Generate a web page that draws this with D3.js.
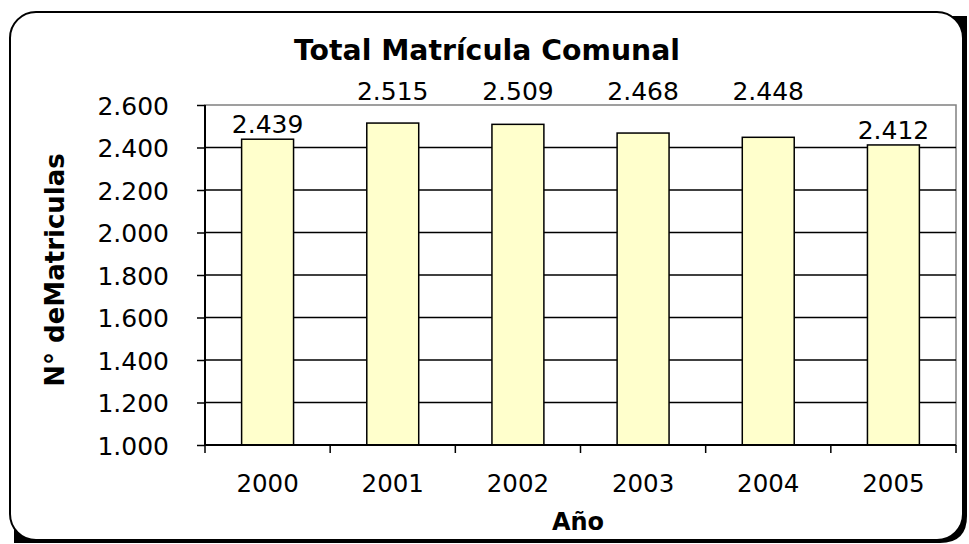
<!DOCTYPE html>
<html><head><meta charset="utf-8">
<script src="https://cdn.jsdelivr.net/npm/d3@7"></script>
<style>body{margin:0;background:#fff}svg{display:block}text{font-family:"DejaVu Sans",Verdana,sans-serif}</style>
</head><body><svg id="c" width="969" height="544"></svg>
<script>
const years = ["2000","2001","2002","2003","2004","2005"];
const matriculas = [2439, 2515, 2509, 2468, 2448, 2412];
const yTicks = [1000,1200,1400,1600,1800,2000,2200,2400,2600];
const title = "Total Matrícula Comunal";
const yTitle = "N° deMatriculas";
const xTitle = "Año";

const svg = d3.select("#c");
const fmt = v => d3.format(",")(v).replace(/,/g, ".");
const m = {l:205, r:956, t:105, b:445};

// frame with shadow
svg.append("path").attr("d","M 14 40 Q 14 16 38 16 L 967 16 L 967 516 Q 967 543 940 543 L 14 543 Z").attr("fill","#000");
svg.append("rect").attr("x",10).attr("y",12).attr("width",953).attr("height",528).attr("rx",26).attr("ry",26)
  .attr("fill","#fff").attr("stroke","#000").attr("stroke-width",2);

const x = d3.scaleBand().domain(years).range([m.l, m.r]).paddingInner(0.585).paddingOuter(0.2925);
const y = d3.scaleLinear().domain([1000,2600]).range([m.b, m.t]);

// plot border (gray top/right)
svg.append("rect").attr("x",m.l).attr("y",m.t).attr("width",m.r-m.l).attr("height",m.b-m.t)
  .attr("fill","none").attr("stroke","#808080").attr("stroke-width",1.5);

// gridlines
svg.append("g").selectAll("line").data(yTicks.filter(d=>d>1000 && d<2600)).join("line")
  .attr("x1",m.l).attr("x2",m.r).attr("y1",d=>y(d)).attr("y2",d=>y(d))
  .attr("stroke","#000").attr("stroke-width",1.5);

// bars
svg.append("g").selectAll("rect").data(matriculas).join("rect")
  .attr("x",(d,i)=>x(years[i])).attr("width",x.bandwidth())
  .attr("y",d=>y(d)).attr("height",d=>y(1000)-y(d))
  .attr("fill","#FFFFCC").attr("stroke","#000").attr("stroke-width",1.5);

// value labels (labels of the tallest bars sit above the plot area)
svg.append("g").selectAll("text").data(matriculas).join("text")
  .attr("x",(d,i)=>x(years[i])+x.bandwidth()/2)
  .attr("y",d=> d > 2440 ? m.t - 5 : y(d) - 6)
  .attr("text-anchor","middle").attr("font-size",25).attr("fill","#000").text(d=>fmt(d));

// y axis
const ya = d3.axisLeft(y).tickValues(yTicks).tickFormat(fmt).tickSize(8).tickPadding(28);
const yg = svg.append("g").attr("transform",`translate(${m.l},0)`).call(ya);
yg.attr("font-family",null).attr("font-size",null);
yg.select(".domain").attr("stroke","#000").attr("stroke-width",2).attr("d",`M0,${m.t}V${m.b}`);
yg.selectAll(".tick line").attr("stroke","#000").attr("stroke-width",1.5);
yg.selectAll(".tick text").attr("font-size",25).attr("fill","#000").attr("dy","0.36em");

// x axis
const xb = d3.scaleLinear().domain([0,6]).range([m.l,m.r]);
const xg = svg.append("g").attr("transform",`translate(0,${m.b})`);
xg.append("line").attr("x1",m.l).attr("x2",m.r).attr("stroke","#000").attr("stroke-width",2);
xg.selectAll("line.t").data(d3.range(7)).join("line").attr("class","t")
  .attr("x1",d=>xb(d)).attr("x2",d=>xb(d)).attr("y1",0).attr("y2",8).attr("stroke","#000").attr("stroke-width",1.5);
xg.selectAll("text").data(years).join("text")
  .attr("x",d=>x(d)+x.bandwidth()/2).attr("y",47).attr("text-anchor","middle")
  .attr("font-size",24.5).attr("fill","#000").text(d=>d);

// titles
svg.append("text").attr("x",487).attr("y",60).attr("text-anchor","middle")
  .attr("font-size",28.3).attr("font-weight","bold").text(title);
svg.append("text").attr("transform","translate(64,270) rotate(-90)").attr("text-anchor","middle")
  .attr("font-size",26).attr("font-weight","bold").text(yTitle);
svg.append("text").attr("x",578).attr("y",530).attr("text-anchor","middle")
  .attr("font-size",24).attr("font-weight","bold").text(xTitle);
</script></body></html>
